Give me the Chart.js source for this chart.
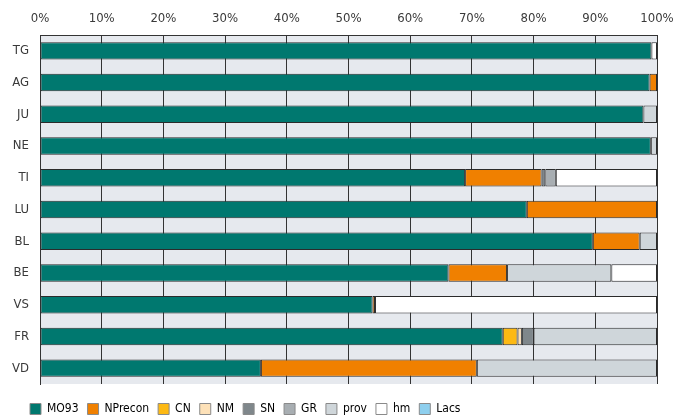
<!DOCTYPE html>
<html>
<head>
<meta charset="utf-8">
<script src="https://cdn.jsdelivr.net/npm/chart.js@4.4.1/dist/chart.umd.min.js"></script>
<style>
html,body{margin:0;padding:0;background:#fff;}
#wrap{width:680px;height:419px;position:relative;}
</style>
</head>
<body>
<div id="wrap"><canvas id="c" width="680" height="419"></canvas></div>
<script>
const categories = ["TG","AG","JU","NE","TI","LU","BL","BE","VS","FR","VD"];
const xTicks = [0,10,20,30,40,50,60,70,80,90,100];
const seriesNames = ["MO93","NPrecon","CN","NM","SN","GR","prov","hm","Lacs"];
const MO93    = [99.1, 98.8, 97.8, 99.0, 68.9, 78.9, 89.6, 66.2, 53.9, 75.0, 35.8];
const NPrecon = [null, 1.2, null, null, 12.4, 21.1, 7.6, 9.5, 0.4, null, 35.0];
const CN      = [null, null, null, null, null, null, null, null, null, 2.4, null];
const NM      = [null, null, null, null, null, null, null, null, null, 0.7, null];
const SN      = [null, null, null, null, 0.6, null, null, null, null, 1.9, null];
const GR      = [null, null, null, null, 1.7, null, null, null, null, null, null];
const prov    = [null, null, 2.2, 1.0, null, null, 2.8, 16.9, null, 20.0, 29.2];
const hm      = [0.9, null, null, null, 16.4, null, null, 7.4, 45.7, null, null];
const Lacs    = [null, null, null, null, null, null, null, null, null, null, null];
const seriesValues = [MO93, NPrecon, CN, NM, SN, GR, prov, hm, Lacs];
const seriesColors = ["#00786f","#f08000","#fdb913","#fde1b8","#7f878b","#a8aeb2","#cfd6da","#ffffff","#8ecfee"];

const FONT = "'Liberation Sans Narrow','DejaVu Sans Condensed','Roboto',sans-serif";

const bgPlugin = {
  id: 'bg',
  beforeDraw(chart) {
    const {ctx, chartArea:a} = chart;
    ctx.save();
    ctx.fillStyle = '#e6e9ee';
    ctx.fillRect(a.left, a.top, a.right - a.left, a.bottom - a.top);
    ctx.restore();
    if (chart.legend) {
      const h = chart.legend.height;
      chart.legend.top = 394;
      chart.legend.bottom = 394 + h;
      chart.legend.left = 21;
    }
  }
};
const legendFix = {
  id: 'legendFix',
  beforeUpdate(chart) {
    const lg = chart.legend;
    if (lg && !lg._patched) {
      const orig = lg.fit.bind(lg);
      lg.fit = function() { orig(); this.height = 35; };
      lg._patched = true;
    }
  }
};

new Chart(document.getElementById('c'), {
  type: 'bar',
  data: {
    labels: categories,
    datasets: seriesNames.map((n, i) => ({
      label: n,
      data: seriesValues[i],
      backgroundColor: seriesColors[i],
      borderColor: '#2b2b2b',
      borderWidth: 1,
      borderSkipped: false,
      barPercentage: 0.55,
      categoryPercentage: 1
    }))
  },
  options: {
    indexAxis: 'y',
    responsive: false,
    animation: false,
    layout: { padding: { left: 0, right: 23, top: 0, bottom: 0 } },
    plugins: {
      tooltip: { enabled: false },
      legend: {
        position: 'bottom',
        align: 'start',
        labels: {
          boxWidth: 11,
          boxHeight: 11,
          padding: 9,
          color: '#3a3a3a',
          font: { family: FONT, size: 12 },
          generateLabels(chart) {
            return chart.data.datasets.map((d, i) => ({
              text: d.label,
              fillStyle: d.backgroundColor,
              strokeStyle: '#8a8a8a',
              lineWidth: 1,
              hidden: false,
              datasetIndex: i
            }));
          }
        }
      }
    },
    scales: {
      x: {
        position: 'top',
        stacked: true,
        min: 0,
        max: 100,
        afterBuildTicks(s) { s.ticks = xTicks.map(v => ({ value: v })); },
        afterFit(s) { s.height = 35; s.paddingLeft = 0; s.paddingRight = 0; },
        ticks: {
          padding: 9,
          color: '#3a3a3a',
          font: { family: FONT, size: 13 },
          callback: v => v + '%'
        },
        grid: { color: '#333', lineWidth: 1, drawTicks: false },
        border: { display: true, color: '#333', width: 1 }
      },
      y: {
        stacked: true,
        afterFit(s) { s.width = 40; },
        ticks: {
          padding: 11,
          color: '#3a3a3a',
          font: { family: FONT, size: 13 }
        },
        grid: { display: false, drawTicks: false },
        border: { display: true, color: '#333', width: 1 }
      }
    }
  },
  plugins: [bgPlugin, legendFix]
});
</script>
</body>
</html>
